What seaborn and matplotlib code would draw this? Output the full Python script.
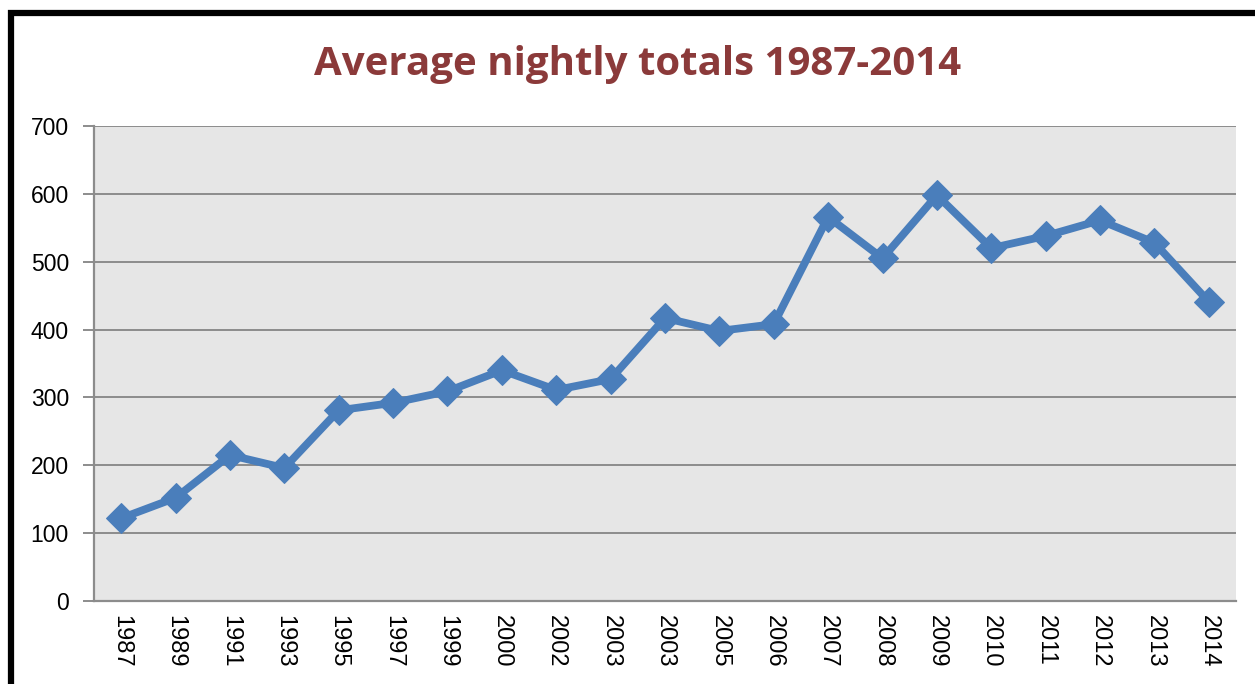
import numpy as np
import pandas as pd
import matplotlib
matplotlib.use("Agg")
import matplotlib.pyplot as plt
from matplotlib.patches import Rectangle
import seaborn as sns

# ── Data ───────────────────────────────────────────────────────────
YEARS  = ["1987", "1989", "1991", "1993", "1995", "1997", "1999", "2000",
          "2002", "2003", "2003", "2005", "2006", "2007", "2008", "2009",
          "2010", "2011", "2012", "2013", "2014"]
TOTALS = [122, 152, 215, 196, 281, 292, 309, 340, 311, 327, 417, 398,
          408, 566, 505, 598, 520, 538, 561, 528, 441]
Y_TICKS = [0, 100, 200, 300, 400, 500, 600, 700]

TITLE     = "Average nightly totals 1987-2014"
LINE_COL  = "#4A7EBB"
TITLE_COL = "#8B3A3A"
GRID_COL  = "#8C8C8C"

df = pd.DataFrame({"pos": np.arange(len(YEARS)), "total": TOTALS})

sns.set_theme(style="white")
plt.rcParams["font.family"] = ["Liberation Sans", "DejaVu Sans"]

fig = plt.figure(figsize=(12.55, 6.84), dpi=100)
ax = fig.add_axes([94 / 1255, 1 - 601 / 684, (1236 - 94) / 1255, (601 - 126) / 684])
ax.set_facecolor("#E6E6E6")

sns.lineplot(data=df, x="pos", y="total", ax=ax, color=LINE_COL, lw=5.6,
             marker="D", markersize=15, markeredgecolor=LINE_COL, zorder=3)

ax.set_xlim(-0.5, len(YEARS) - 0.5)
ax.set_ylim(0, 700)
ax.set_yticks(Y_TICKS)
ax.set_xticks(df["pos"])
ax.set_xticklabels(YEARS, rotation=-90, fontsize=17)
ax.tick_params(axis="y", labelsize=16.5, length=8, width=1.4, color=GRID_COL,
               direction="out", left=True, pad=10, labelcolor="black")
ax.tick_params(axis="x", length=0, pad=10, labelcolor="black")
ax.yaxis.grid(True, color=GRID_COL, lw=1.4)
ax.set_axisbelow(True)
ax.set(xlabel="", ylabel="")
for side in ["top", "right"]:
    ax.spines[side].set_visible(False)
for side in ["left", "bottom"]:
    ax.spines[side].set_color(GRID_COL)
    ax.spines[side].set_linewidth(1.6)

fig.text(638 / 1255, 1 - 64 / 684, TITLE, ha="center", va="center",
         fontsize=29, fontweight="bold", color=TITLE_COL,
         family=["Open Sans", "DejaVu Sans"])

# black frame round the chart (top and left visible)
fig.patches.append(Rectangle((11 / 1255, -0.1), 1.2, 1 - 13 / 684 + 0.1,
                             transform=fig.transFigure, fill=False,
                             edgecolor="black", lw=4.5, zorder=10))

fig.savefig("out.png", dpi=100)
